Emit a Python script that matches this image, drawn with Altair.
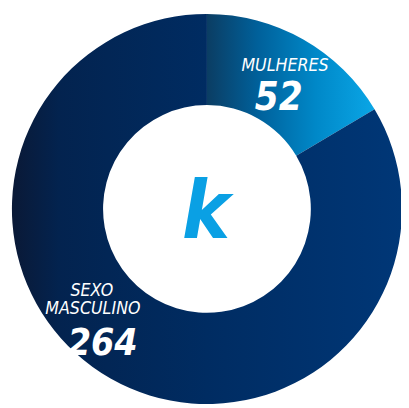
import altair as alt
import pandas as pd

categories = ["MULHERES", "SEXO MASCULINO"]
values = [52, 264]
order = [0, 1]
line1 = ["MULHERES", "SEXO"]
line2 = ["", "MASCULINO"]
center_letter = "k"

df = pd.DataFrame({"cat": categories, "value": values, "ord": order,
                   "line1": line1, "line2": line2})
df["num"] = df["value"].astype(str)
total = sum(values)

FONT = "DejaVu Sans Condensed, Roboto, sans-serif"
CX, CY = 203, 201
R_OUT, R_IN = 199, 106

theta_scale = alt.Scale(domain=[0, total], range=[0, 6.283185307179586])

base = alt.Chart(df).transform_stack(
    stack="value", groupby=[], as_=["v0", "v1"],
    sort=[alt.SortField("ord", order="ascending")]
).transform_calculate(mid="(datum.v0 + datum.v1) / 2")

grad_light = alt.Gradient(
    gradient="linear", x1=0, x2=1, y1=0, y2=0,
    stops=[alt.GradientStop(color="#0b3d63", offset=0),
           alt.GradientStop(color="#00609a", offset=0.3),
           alt.GradientStop(color="#0088c8", offset=0.65),
           alt.GradientStop(color="#0aa6e6", offset=1)])
grad_dark = alt.Gradient(
    gradient="linear", x1=0, x2=1, y1=0, y2=0,
    stops=[alt.GradientStop(color="#0a1936", offset=0),
           alt.GradientStop(color="#03234f", offset=0.12),
           alt.GradientStop(color="#002c62", offset=0.5),
           alt.GradientStop(color="#003777", offset=1)])

def arc_layer(cat, grad):
    return base.transform_filter(alt.datum.cat == cat).mark_arc(
        outerRadius=R_OUT, innerRadius=R_IN, fill=grad, stroke=None
    ).encode(
        theta=alt.Theta("v0:Q", scale=theta_scale),
        theta2="v1:Q",
        x=alt.value(CX), y=alt.value(CY),
    )

def text_layer(cat, field, r, dx, dy, size, bold):
    return base.transform_filter(alt.datum.cat == cat).mark_text(
        font=FONT, fontSize=size, fontStyle="italic",
        fontWeight="bold" if bold else "normal",
        color="white", align="center", baseline="alphabetic",
        radius=r, dx=dx, dy=dy
    ).encode(
        theta=alt.Theta("mid:Q", scale=theta_scale),
        x=alt.value(CX), y=alt.value(CY),
        text=alt.Text(field + ":N"),
    )

center = alt.Chart(pd.DataFrame({"t": [center_letter]})).mark_text(
    font=FONT, fontSize=82, fontStyle="italic", fontWeight="bold",
    color="#0aa0e4", align="center", baseline="alphabetic"
).encode(text="t:N", x=alt.value(CX - 1), y=alt.value(CY + 30))

chart = alt.layer(
    arc_layer("MULHERES", grad_light),
    arc_layer("SEXO MASCULINO", grad_dark),
    text_layer("MULHERES", "line1", 157, 2, -4, 18, False),
    text_layer("MULHERES", "num", 140, 4, 21, 39, True),
    text_layer("SEXO MASCULINO", "line1", 110, -63, -7, 18, False),
    text_layer("SEXO MASCULINO", "line2", 110, -62, 12, 18, False),
    text_layer("SEXO MASCULINO", "num", 110, -52, 53, 38, True),
    center,
).properties(
    width=401, height=400, padding=0,
    autosize=alt.AutoSizeParams(type="none"),
).configure_view(stroke=None)

chart.save("out.html", embed_options={"renderer": "svg", "actions": False})
